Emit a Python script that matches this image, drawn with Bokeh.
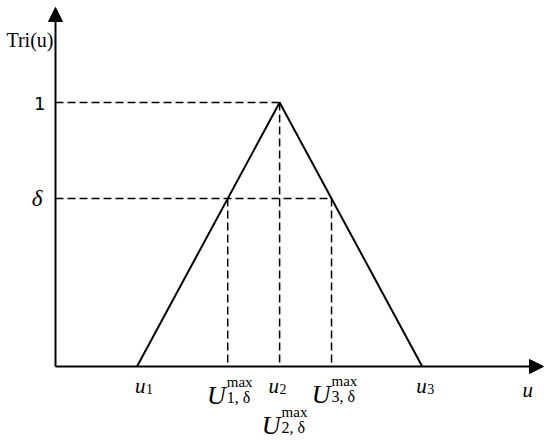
from bokeh.plotting import figure
from bokeh.models import Range1d, Arrow, NormalHead, ColumnDataSource
from bokeh.core.properties import value
from bokeh.embed import file_html
from bokeh.resources import INLINE

# ---- data (conceptual triangular membership function) ----
u_vals = [1.0, 2.75, 4.5]          # u1, u2, u3
tri_vals = [0.0, 1.0, 0.0]         # Tri(u) at u1, u2, u3
delta = 0.636                      # cut level delta
u_labels = ["u", "u", "u"]
u_subs = ["1", "2", "3"]
U_subs = ["1, δ", "2, δ", "3, δ"]

u1, u2, u3 = u_vals
U1 = u1 + delta * (u2 - u1)
U3 = u3 - delta * (u3 - u2)
U2 = u2

SERIF = value("Liberation Serif")
SANS = value("DejaVu Sans")

p = figure(width=550, height=443, output_backend="svg", toolbar_location=None,
           x_range=Range1d(-0.6748, 6.0736), y_range=Range1d(-0.2917, 1.3864),
           min_border=0, outline_line_color=None)
p.axis.visible = False
p.grid.visible = False
p.background_fill_color = "white"
p.border_fill_color = "white"

# axes with arrows
x_tip = 5.9877
y_tip = 1.3598
p.add_layout(Arrow(x_start=0, y_start=0, x_end=x_tip, y_end=0, line_width=2,
                   line_color="black",
                   end=NormalHead(size=14, fill_color="black", line_color="black", line_width=1)))
p.add_layout(Arrow(x_start=0, y_start=0, x_end=0, y_end=y_tip, line_width=2,
                   line_color="black",
                   end=NormalHead(size=14, fill_color="black", line_color="black", line_width=1)))

# triangle
p.line(u_vals, tri_vals, line_color="black", line_width=2)

# dashed helper lines
dash = "8 4"
p.line([0, u2], [1, 1], line_color="black", line_width=1.5, line_dash=dash)
p.line([0, U3], [delta, delta], line_color="black", line_width=1.5, line_dash=dash)
p.line([u2, u2], [1, 0], line_color="black", line_width=1.5, line_dash=dash)
p.line([U1, U1], [delta, 0], line_color="black", line_width=1.5, line_dash=dash)
p.line([U3, U3], [delta, 0], line_color="black", line_width=1.5, line_dash=dash)

# y labels
p.text(x=[0], y=[y_tip], text=["Tri(u)"], x_offset=[-2], y_offset=[32],
       text_font=SERIF, text_font_size="20px", text_align="right",
       text_baseline="alphabetic", text_color="black")
p.text(x=[0], y=[1.0], text=["1"], x_offset=[-10], y_offset=[1],
       text_font=SANS, text_font_size="18px", text_align="right",
       text_baseline="middle", text_color="black")
p.text(x=[0], y=[delta], text=["δ"], x_offset=[-13], y_offset=[0],
       text_font=SERIF, text_font_style="italic", text_font_size="23px",
       text_align="right", text_baseline="middle", text_color="black")

# u_i labels
u_xo = [-2, -11, -6]
src_u = ColumnDataSource(dict(x=u_vals, y=[0, 0, 0], t=u_labels, s=u_subs,
                              xo=u_xo, xs=[v + 11 for v in u_xo]))
p.text(x="x", y="y", text="t", source=src_u, x_offset="xo", y_offset=20,
       text_font=SERIF, text_font_style="italic", text_font_size="21px",
       text_align="left", text_baseline="alphabetic", text_color="black")
p.text(x="x", y="y", text="s", source=src_u, x_offset="xs", y_offset=23,
       text_font=SERIF, text_font_size="14px",
       text_align="left", text_baseline="alphabetic", text_color="black")

# U^max labels
U_x = [U1, U2, U3]
U_yoff = [29, 59, 28]
U_xoff = [-2, 1, -1]
src_U = ColumnDataSource(dict(x=U_x, y=[0, 0, 0], t=["U"] * 3, m=["max"] * 3, s=U_subs,
                              xo=U_xoff, xm=[v + 1 for v in U_xoff],
                              yo=U_yoff, ym=[v - 13 for v in U_yoff], ys=[v + 2 for v in U_yoff]))
p.text(x="x", y="y", text="t", source=src_U, x_offset="xo", y_offset="yo",
       text_font=SERIF, text_font_style="italic", text_font_size="26px",
       text_align="right", text_baseline="alphabetic", text_color="black")
p.text(x="x", y="y", text="m", source=src_U, x_offset="xm", y_offset="ym",
       text_font=SERIF, text_font_size="15px",
       text_align="left", text_baseline="alphabetic", text_color="black")
p.text(x="x", y="y", text="s", source=src_U, x_offset="xm", y_offset="ys",
       text_font=SERIF, text_font_size="16px",
       text_align="left", text_baseline="alphabetic", text_color="black")

# axis label u
p.text(x=[x_tip], y=[0], text=["u"], x_offset=[-21], y_offset=[24],
       text_font=SERIF, text_font_style="italic", text_font_size="21px",
       text_align="left", text_baseline="alphabetic", text_color="black")

open("out.html", "w").write(file_html(p, INLINE))
